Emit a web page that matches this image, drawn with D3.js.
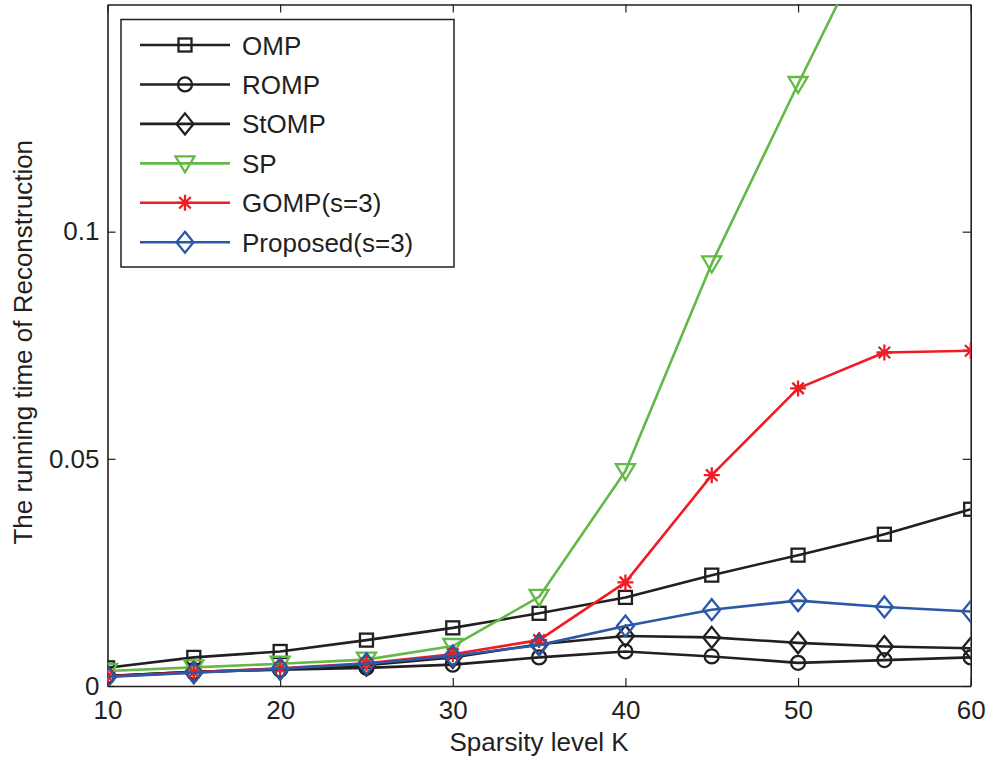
<!DOCTYPE html>
<html>
<head>
<meta charset="utf-8">
<script src="https://cdn.jsdelivr.net/npm/d3@7/dist/d3.min.js"></script>
<style>
  html, body { margin: 0; padding: 0; background: #fff; }
  svg { display: block; font-family: "Liberation Sans", Arial, Helvetica, sans-serif; }
</style>
</head>
<body>
<svg id="chart" width="989" height="760"></svg>
<script>
// ---- data ----
const sparsityK = [10, 15, 20, 25, 30, 35, 40, 45, 50, 55, 60];
const ompTime      = [0.0040, 0.0063, 0.0076, 0.0101, 0.0128, 0.0160, 0.0195, 0.0244, 0.0288, 0.0334, 0.0389];
const rompTime     = [0.0022, 0.0031, 0.0036, 0.0040, 0.0047, 0.0063, 0.0076, 0.0065, 0.0051, 0.0057, 0.0063];
const stompTime    = [0.0022, 0.0031, 0.0037, 0.0046, 0.0063, 0.0092, 0.0110, 0.0107, 0.0095, 0.0087, 0.0083];
const spTime       = [0.0033, 0.0041, 0.0049, 0.0058, 0.0088, 0.0196, 0.0473, 0.0930, 0.1325, 0.1710, 0.2050];
const gompTime     = [0.0021, 0.0030, 0.0039, 0.0050, 0.0070, 0.0101, 0.0228, 0.0464, 0.0655, 0.0734, 0.0738];
const proposedTime = [0.0020, 0.0029, 0.0038, 0.0049, 0.0066, 0.0090, 0.0132, 0.0168, 0.0188, 0.0174, 0.0164];
const seriesNames  = ["OMP", "ROMP", "StOMP", "SP", "GOMP(s=3)", "Proposed(s=3)"];
const xTicks = [10, 20, 30, 40, 50, 60];
const yTicks = [0, 0.05, 0.1];
const yTickLabels = ["0", "0.05", "0.1"];
const xLabel = "Sparsity level K";
const yLabel = "The running time of Reconstruction";

// ---- styles ----
const BLACK = "#231f20", GREEN = "#62b946", RED = "#ee1c25", BLUE = "#2c58a8";
const series = [
  { name: seriesNames[0], values: ompTime,      color: BLACK, marker: "square" },
  { name: seriesNames[1], values: rompTime,     color: BLACK, marker: "circle" },
  { name: seriesNames[2], values: stompTime,    color: BLACK, marker: "diamond" },
  { name: seriesNames[3], values: spTime,       color: GREEN, marker: "triangle" },
  { name: seriesNames[4], values: gompTime,     color: RED,   marker: "star" },
  { name: seriesNames[5], values: proposedTime, color: BLUE,  marker: "diamond" }
];

const svg = d3.select("#chart");
const L = 107.5, R = 970.7, T = 4.5, B = 686;
const x = d3.scaleLinear().domain([10, 60]).range([L, R]);
const y = d3.scaleLinear().domain([0, 0.15]).range([B, T]);

svg.append("defs").append("clipPath").attr("id", "plotclip")
  .append("rect").attr("x", L).attr("y", T).attr("width", R - L).attr("height", B - T);

// axes frame
const frame = svg.append("g");
const tickLen = 8;
const axB = d3.axisBottom(x).tickValues(xTicks).tickSizeInner(-tickLen).tickSizeOuter(0).tickPadding(15).tickFormat(d3.format("d"));
const axT = d3.axisTop(x).tickValues(xTicks).tickSizeInner(-tickLen).tickSizeOuter(0).tickFormat("");
const axL = d3.axisLeft(y).tickValues(yTicks).tickSizeInner(-tickLen).tickSizeOuter(0).tickPadding(8).tickFormat((d, i) => yTickLabels[i]);
const axR = d3.axisRight(y).tickValues(yTicks).tickSizeInner(-tickLen).tickSizeOuter(0).tickFormat("");

function styleAxis(g) {
  g.select(".domain").attr("stroke", BLACK).attr("stroke-width", 1.6);
  g.selectAll(".tick line").attr("stroke", BLACK).attr("stroke-width", 1.2);
  g.selectAll("text").attr("fill", BLACK).style("font-size", "26px").style("font-family", '"Liberation Sans", Arial, sans-serif');
}
frame.append("g").attr("transform", `translate(0,${B})`).call(axB).call(styleAxis);
frame.append("g").attr("transform", `translate(0,${T})`).call(axT).call(styleAxis);
frame.append("g").attr("transform", `translate(${L},0)`).call(axL).call(styleAxis);
frame.append("g").attr("transform", `translate(${R},0)`).call(axR).call(styleAxis);

// axis labels
svg.append("text").attr("x", (L + R) / 2).attr("y", 751).attr("text-anchor", "middle")
  .attr("fill", BLACK).style("font-size", "26px").text(xLabel);
svg.append("text").attr("transform", `translate(32,${(T + B) / 2 - 3}) rotate(-90)`).attr("text-anchor", "middle")
  .attr("fill", BLACK).style("font-size", "26px").text(yLabel);

// marker drawing
function drawMarker(g, type, cx, cy, color) {
  const sw = 2.3;
  if (type === "square") {
    g.append("rect").attr("x", cx - 6.5).attr("y", cy - 6.5).attr("width", 13).attr("height", 13)
      .attr("fill", "none").attr("stroke", color).attr("stroke-width", sw);
  } else if (type === "circle") {
    g.append("circle").attr("cx", cx).attr("cy", cy).attr("r", 7)
      .attr("fill", "none").attr("stroke", color).attr("stroke-width", sw);
  } else if (type === "diamond") {
    g.append("path").attr("d", `M${cx},${cy - 10.5}L${cx + 8.5},${cy}L${cx},${cy + 10.5}L${cx - 8.5},${cy}Z`)
      .attr("fill", "none").attr("stroke", color).attr("stroke-width", sw);
  } else if (type === "triangle") {
    g.append("path").attr("d", `M${cx - 9.5},${cy - 7}L${cx + 9.5},${cy - 7}L${cx},${cy + 9}Z`)
      .attr("fill", "none").attr("stroke", color).attr("stroke-width", sw);
  } else if (type === "star") {
    const r = 8, rd = r * 0.72;
    g.append("path").attr("d",
      `M${cx},${cy - r}L${cx},${cy + r}M${cx - r},${cy}L${cx + r},${cy}` +
      `M${cx - rd},${cy - rd}L${cx + rd},${cy + rd}M${cx - rd},${cy + rd}L${cx + rd},${cy - rd}`)
      .attr("fill", "none").attr("stroke", color).attr("stroke-width", sw);
  }
}

// series
const plot = svg.append("g").attr("clip-path", "url(#plotclip)");
const line = d3.line().x((d, i) => x(sparsityK[i])).y(d => y(d));
series.forEach(s => {
  const g = plot.append("g");
  g.append("path").datum(s.values).attr("d", line)
    .attr("fill", "none").attr("stroke", s.color).attr("stroke-width", 2.6).attr("stroke-linejoin", "round");
  s.values.forEach((v, i) => drawMarker(g, s.marker, x(sparsityK[i]), y(v), s.color));
});

// legend
const leg = svg.append("g");
leg.append("rect").attr("x", 121).attr("y", 19.5).attr("width", 333).attr("height", 247.5)
  .attr("fill", "#fff").attr("stroke", BLACK).attr("stroke-width", 1.5);
const rowY0 = 45, rowDy = 39.45;
series.forEach((s, i) => {
  const ry = rowY0 + i * rowDy;
  const g = leg.append("g");
  g.append("line").attr("x1", 140).attr("x2", 230).attr("y1", ry).attr("y2", ry)
    .attr("stroke", s.color).attr("stroke-width", 2.6);
  drawMarker(g, s.marker, 185, ry, s.color);
  g.append("text").attr("x", 242).attr("y", ry + 9.5).attr("fill", BLACK)
    .style("font-size", "26px").text(s.name);
});
</script>
</body>
</html>
